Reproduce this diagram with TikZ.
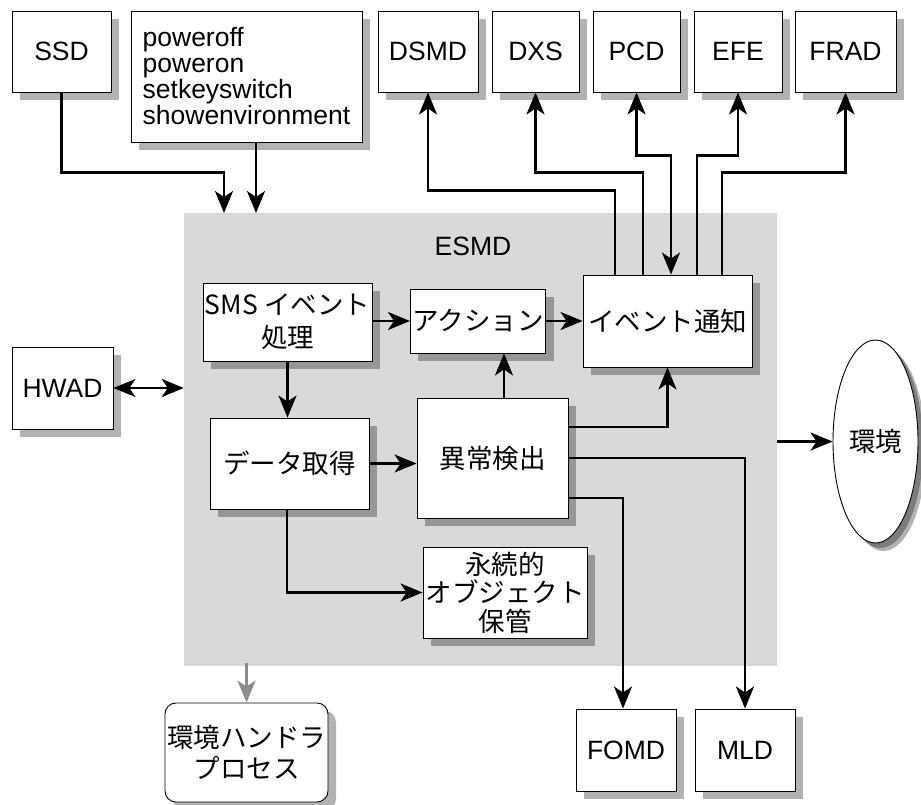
\documentclass[tikz,border=0pt]{standalone}
\usepackage{fontspec}
\setmainfont{Liberation Sans}
\newfontfamily\jp{Noto Sans CJK JP}
\usetikzlibrary{arrows.meta,shadows,shapes.geometric}
\definecolor{esmdgray}{HTML}{D9D9D9}
\definecolor{arrgray}{HTML}{8C8C8C}
\begin{document}
\begin{tikzpicture}[x=1pt,y=-1pt,
  font=\fontsize{26.5}{30}\selectfont,
  box/.style={draw, line width=0.9pt, fill=white, inner sep=2pt, align=center,
    drop shadow={shadow xshift=8pt, shadow yshift=-8pt, fill=black, opacity=0.3}},
  arr/.style={line width=2.4pt, -{Stealth[length=22pt,width=18pt,inset=6pt]}},
  darr/.style={line width=2.4pt, {Stealth[length=22pt,width=18pt,inset=6pt]}-{Stealth[length=22pt,width=18pt,inset=6pt]}},
  garr/.style={line width=2.4pt, draw=arrgray, -{Stealth[length=22pt,width=18pt,inset=6pt,fill=arrgray]}},
]
\useasboundingbox (0,0) rectangle (921,804);

% ESMD background
\node[fill=esmdgray, minimum width=593pt, minimum height=453pt, inner sep=0pt] (esmd) at (480.5,439.5) {};
\node (esmdlabel) at (473,246) {ESMD};

% outside boxes
\node[box, minimum width=99pt, minimum height=81pt] (ssd) at (61.5,51.5) {SSD};
\node[box, minimum width=231pt, minimum height=131pt, align=left, font=\fontsize{26.5}{26}\selectfont] (cmd) at (246.5,76.5)
  {poweroff\\poweron\\setkeyswitch\\showenvironment};
\node[box, minimum width=100pt, minimum height=81pt] (dsmd) at (428,51.5) {DSMD};
\node[box, minimum width=87pt, minimum height=81pt] (dxs) at (535.5,51.5) {DXS};
\node[box, minimum width=87pt, minimum height=81pt] (pcd) at (636.5,51.5) {PCD};
\node[box, minimum width=88pt, minimum height=81pt] (efe) at (738,51.5) {EFE};
\node[box, minimum width=101pt, minimum height=81pt] (frad) at (845.5,51.5) {FRAD};
\node[box, minimum width=101pt, minimum height=82pt] (hwad) at (62.5,388) {HWAD};
\node[box, minimum width=100pt, minimum height=82pt] (fomd) at (626,750) {FOMD};
\node[box, minimum width=100pt, minimum height=82pt] (mld) at (745,750) {MLD};
\node[box, ellipse, inner sep=0pt, minimum width=85pt, minimum height=203pt,
  drop shadow={shadow xshift=5pt, shadow yshift=-5pt, fill=black, opacity=0.3}] (env) at (875.5,441.5) {\jp 環境};
\node[box, rounded corners=11pt, minimum width=151pt, minimum height=99pt, font=\fontsize{26.5}{31}\selectfont] (ehp) at (246.5,752.5)
  {\jp 環境ハンドラ\\\jp プロセス};

% inside boxes
\node[box, minimum width=169pt, minimum height=78pt, font=\fontsize{26.5}{33}\selectfont] (sms) at (287.5,322)
  {\jp SMS イベント\\\jp 処理};
\node[box, minimum width=126pt, minimum height=64pt] (act) at (478,321) {\jp アクション};
\node[box, minimum width=169pt, minimum height=92pt] (evt) at (667.5,321) {\jp イベント通知};
\node[box, minimum width=159pt, minimum height=91pt] (data) at (289.5,463.5) {\jp データ取得};
\node[box, minimum width=151pt, minimum height=120pt] (anom) at (492.5,458) {\jp 異常検出};
\node[box, minimum width=164pt, minimum height=91pt, font=\fontsize{26.5}{28.5}\selectfont] (pers) at (505,592.5)
  {\jp 永続的\\\jp オブジェクト\\\jp 保管};

% connector end points on ESMD border
\coordinate (in1) at (224,213);
\coordinate (in2) at (256,213);

% inputs from top
\draw[arr] (ssd.south) -- ++(0,80) -| (in1);
\draw[arr] (cmd.south -| in2) -- (in2);

% event notification outputs
\draw[arr] ([xshift=-52.5pt]evt.north) -- ++(0,-84) -| (dsmd.south);
\draw[arr] ([xshift=-24.5pt]evt.north) -- ++(0,-102) -| (dxs.south);
\draw[darr] ([xshift=3.5pt]evt.north) -- ++(0,-119) -| (pcd.south);
\draw[arr] ([xshift=29.5pt]evt.north) -- ++(0,-119) -| (efe.south);
\draw[arr] ([xshift=54.5pt]evt.north) -- ++(0,-102) -| (frad.south);

% internal flow
\draw[arr] (sms.east |- act.west) -- (act.west);
\draw[arr] (act.east) -- (evt.west);
\draw[arr] (sms.south) -- (sms.south |- data.north);
\draw[arr] (data.east) -- (data.east -| anom.west);
\draw[arr] ([xshift=11.5pt]anom.north) -- ([xshift=26pt]act.south);
\draw[arr] ([yshift=31pt]anom.east) -| (evt.south);
\draw[arr] (anom.east) -| (mld.north);
\draw[arr] ([yshift=-40pt]anom.east) -| ([xshift=-3pt]fomd.north);
\draw[arr] ([xshift=-2.5pt]data.south) |- (pers.west);

% ESMD side connectors
\draw[darr] (hwad.east) -- (esmd.west |- hwad.east);
\draw[arr] (esmd.east |- env.west) -- (env.west);
\draw[garr] ([yshift=3pt]esmd.south -| ehp.north) -- (ehp.north);
\end{tikzpicture}
\end{document}
